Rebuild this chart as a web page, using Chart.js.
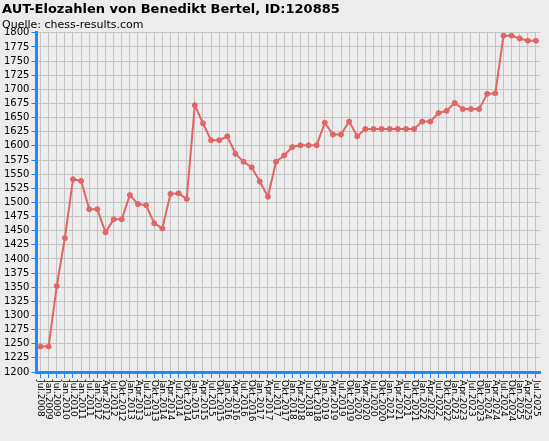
<!DOCTYPE html>
<html><head><meta charset="utf-8">
<script src="https://cdn.jsdelivr.net/npm/chart.js@4"></script>
<style>html,body{margin:0;padding:0;background:#ececec}#w{width:549px;height:441px;position:relative}</style>
</head><body><div id="w"><canvas id="c"></canvas></div>
<script>
const labels=["Jul.2008","Jan.2009","Jul.2009","Jan.2010","Jul.2010","Jan.2011","Jul.2011","Jan.2012",
"Apr.2012","Jul.2012","Okt.2012","Jan.2013","Apr.2013","Jul.2013","Okt.2013","Jan.2014","Apr.2014","Jul.2014","Okt.2014",
"Jan.2015","Apr.2015","Jul.2015","Okt.2015","Jan.2016","Apr.2016","Jul.2016","Okt.2016","Jan.2017","Apr.2017","Jul.2017","Okt.2017",
"Jan.2018","Apr.2018","Jul.2018","Okt.2018","Jan.2019","Apr.2019","Jul.2019","Okt.2019","Jan.2020","Apr.2020","Jul.2020","Okt.2020",
"Jan.2021","Apr.2021","Jul.2021","Okt.2021","Jan.2022","Apr.2022","Jul.2022","Okt.2022","Jan.2023","Apr.2023","Jul.2023","Okt.2023",
"Jan.2024","Apr.2024","Jul.2024","Okt.2024","Jan.2025","Apr.2025","Jul.2025"];
const elo=[1245,1245,1352,1437,1541,1538,1488,1488,1447,1470,1470,1513,1497,1495,1463,1454,1515,1516,1506,1672,1640,1610,1610,1617,1586,1572,1562,1537,1510,1572,1583,
1598,1601,1601,1601,1641,1620,1620,1643,1617,1630,1630,1630,1630,1630,1630,1630,1643,1643,1658,1662,1676,1665,1665,1665,1692,1693,1795,1795,1790,1786,1786];
const yMin=1200,yMax=1800,yStep=25;
const xLabelPlugin={id:'xl',afterDraw(ch){const s=ch.scales.x,c=ch.ctx;c.save();c.font='9px "DejaVu Sans"';c.fillStyle='#000';c.textBaseline='middle';c.textAlign='left';
labels.forEach((l,i)=>{const x=s.getPixelForValue(i);c.save();c.translate(x,s.top+8);c.rotate(Math.PI/2);c.fillText(l,0,0);c.restore();});c.restore();}};
new Chart(document.getElementById('c'),{type:'line',
data:{labels:labels,datasets:[{data:elo,borderColor:'#e06666',backgroundColor:'#e06666',borderWidth:2,pointRadius:2.5,pointBorderWidth:1,tension:0}]},
options:{responsive:true,maintainAspectRatio:false,animation:false,
layout:{padding:{left:2,right:9,top:0,bottom:0}},
plugins:{legend:{display:false},tooltip:{enabled:false},
title:{display:true,text:'AUT-Elozahlen von Benedikt Bertel, ID:120885',align:'start',color:'#000',font:{family:'DejaVu Sans',size:13,weight:'bold'},padding:{top:2,bottom:1}},
subtitle:{display:true,text:'Quelle: chess-results.com',align:'start',color:'#000',font:{family:'DejaVu Sans',size:11},padding:{bottom:1}}},
scales:{
x:{offset:true,grid:{color:'#c4c4c4',drawTicks:true,tickColor:'#1e88ff',tickLength:6},border:{color:'#1e88ff',width:3},
ticks:{autoSkip:false,maxRotation:0,minRotation:0,callback:()=>''},afterFit(s){s.height=69;}},
y:{min:yMin,max:yMax,grid:{color:'#c4c4c4',tickColor:'#1e88ff',tickLength:5},border:{color:'#1e88ff',width:3},
ticks:{stepSize:yStep,autoSkip:false,color:'#000',font:{family:'DejaVu Sans',size:10},padding:2,callback:v=>String(v)}}}},
plugins:[xLabelPlugin]});
</script></body></html>
